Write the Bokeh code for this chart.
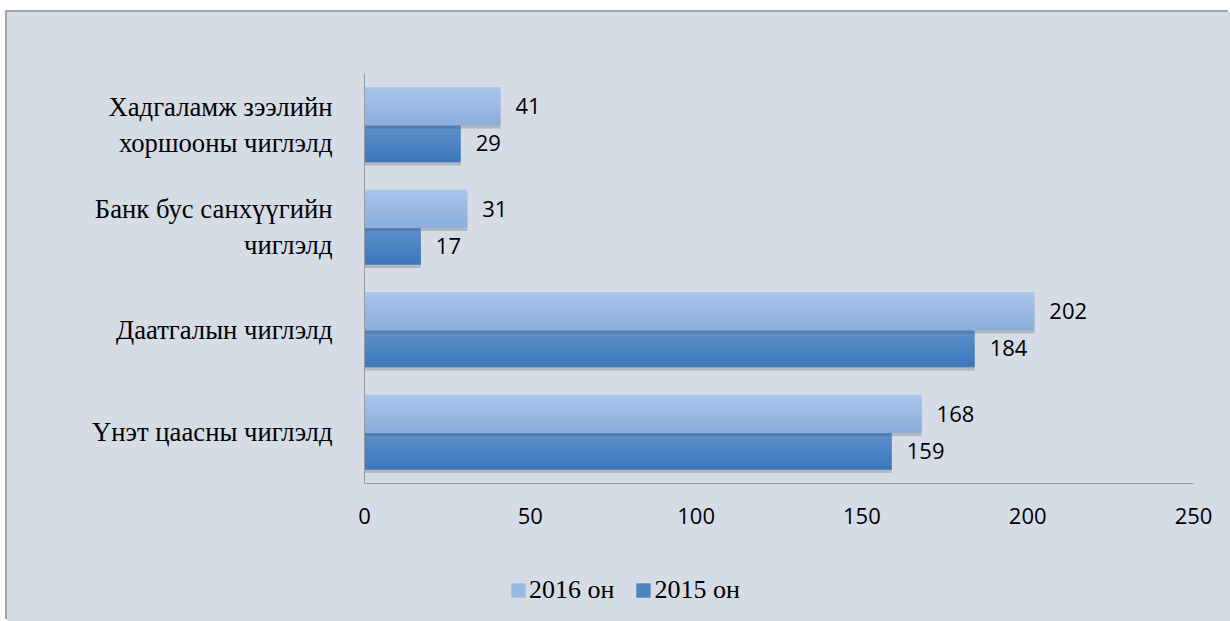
from bokeh.plotting import figure
from bokeh.models import ColumnDataSource, LabelSet, Legend, LegendItem, FixedTicker
from bokeh.layouts import column
from bokeh.core.properties import value
from bokeh.transform import dodge
from bokeh.embed import file_html
from bokeh.resources import INLINE

categories = ["Үнэт цаасны чиглэлд", "Даатгалын чиглэлд",
              "Банк бус санхүүгийн\nчиглэлд", "Хадгаламж зээлийн\nхоршооны чиглэлд"]
values_2016 = [168, 202, 31, 41]
values_2015 = [159, 184, 17, 29]
series_names = ["2016 он", "2015 он"]
x_ticks = [0, 50, 100, 150, 200, 250]

BG = "#d6dce5"
COL_2016 = ("#a8c5ec", "#8caedc")
COL_2015 = ("#5f92ca", "#3a77bb")

src = ColumnDataSource(dict(cat=categories, v2016=values_2016, v2015=values_2015))

p = figure(y_range=categories, x_range=(0, 250),
           frame_width=829, frame_height=410,
           min_border_left=357, min_border_right=37, min_border_top=61, min_border_bottom=77,
           output_backend="svg", toolbar_location=None)
p.background_fill_color = BG
p.border_fill_color = BG
p.outline_line_color = None
p.xgrid.grid_line_color = None
p.ygrid.grid_line_color = None

H = 0.365
OFF = 0.18


def lerp(c1, c2, t):
    a = [int(c1[i:i + 2], 16) for i in (1, 3, 5)]
    b = [int(c2[i:i + 2], 16) for i in (1, 3, 5)]
    return "#%02x%02x%02x" % tuple(round(a[k] + (b[k] - a[k]) * t) for k in range(3))


def draw_bar(field, off, cols, n=10):
    # soft shadow
    p.hbar(y=dodge("cat", off - 0.035, range=p.y_range), right=field, left=0, height=H,
           source=src, fill_color="#3a4a60", fill_alpha=0.25, line_color=None)
    for i in range(n):
        t = (i + 0.5) / n
        yo = off + H / 2 - (i + 0.5) * H / n
        p.hbar(y=dodge("cat", yo, range=p.y_range), right=field, left=0, height=H / n + 0.008,
               source=src, fill_color=lerp(cols[0], cols[1], t), line_color=None)


draw_bar("v2015", -OFF, COL_2015)
draw_bar("v2016", OFF, COL_2016)

for field, off in (("v2016", OFF), ("v2015", -OFF)):
    p.add_layout(LabelSet(x=field, y=dodge("cat", off, range=p.y_range), text=field, source=src,
                          x_offset=15, text_baseline="middle", text_align="left",
                          text_font=value("Open Sans"), text_font_size="22px", text_color="black"))

p.xaxis.ticker = FixedTicker(ticks=x_ticks)
p.xaxis.axis_line_color = "#9a9a9a"
p.xaxis.major_tick_line_color = None
p.xaxis.minor_tick_line_color = None
p.xaxis.major_label_standoff = 18
p.xaxis.major_label_text_font = "Open Sans"
p.xaxis.major_label_text_font_size = "22px"
p.xaxis.major_label_text_color = "black"

p.yaxis.axis_line_color = "#9a9a9a"
p.yaxis.major_tick_line_color = None
p.yaxis.minor_tick_line_color = None
p.yaxis.major_label_standoff = 26
p.yaxis.major_label_text_font = "Liberation Serif"
p.yaxis.major_label_text_font_size = "26.7px"
p.yaxis.major_label_text_color = "black"

# legend strip below the chart
lf = figure(width=1223, height=61, x_range=(0, 1), y_range=(0, 1),
            x_axis_type=None, y_axis_type=None, min_border=0,
            output_backend="svg", toolbar_location=None)
lf.background_fill_color = BG
lf.border_fill_color = BG
lf.outline_line_color = None
lf.grid.visible = False
offscreen = ColumnDataSource(dict(x=[-10], y=[-10]))
g16 = lf.rect(x="x", y="y", width=0.1, height=0.1, source=offscreen,
              fill_color=lerp(COL_2016[0], COL_2016[1], 0.5), line_color=None)
g15 = lf.rect(x="x", y="y", width=0.1, height=0.1, source=offscreen,
              fill_color=lerp(COL_2015[0], COL_2015[1], 0.5), line_color=None)
legend = Legend(items=[LegendItem(label=series_names[0], renderers=[g16]),
                       LegendItem(label=series_names[1], renderers=[g15])],
                orientation="horizontal", location=(145, 16),
                background_fill_alpha=0, border_line_color=None,
                glyph_width=18, glyph_height=18, label_standoff=2, spacing=20,
                label_text_font="Liberation Serif", label_text_font_size="26px",
                label_text_color="black", padding=0, margin=0)
lf.add_layout(legend, "center")

layout = column(p, lf, spacing=0)
layout.margin = (12, 0, 0, 7)
layout.styles = {"box-shadow": "-2px -2px 0 #a6a6a6", "background-color": BG}

open("out.html", "w").write(file_html(layout, INLINE))
